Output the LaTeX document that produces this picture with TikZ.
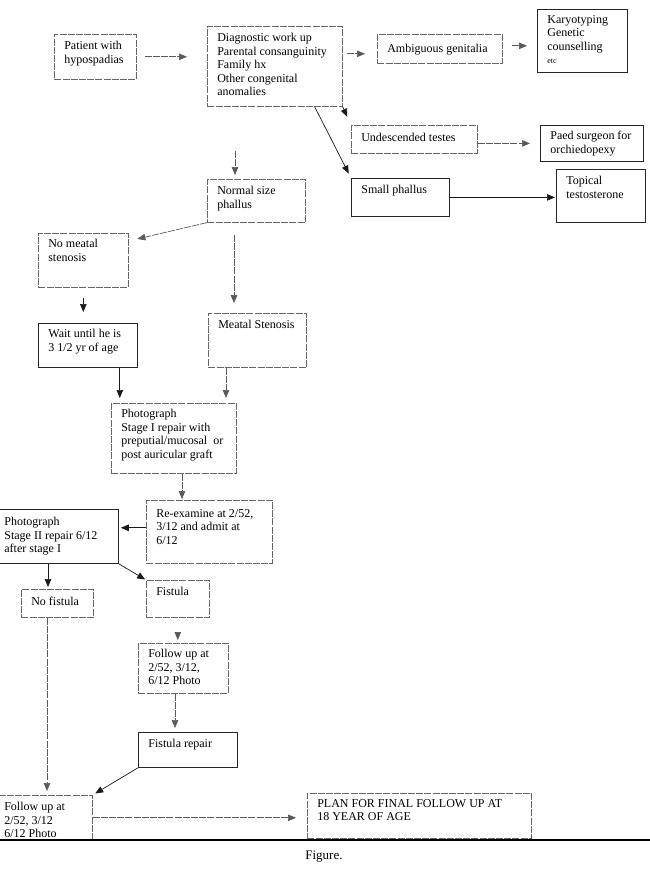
\documentclass[tikz,border=0pt]{standalone}
\usepackage{fontspec}
\setmainfont{Liberation Serif}
\usetikzlibrary{arrows.meta}

\tikzset{
  toppad/.store in=\boxpad, toppad=7pt,
  box/.style={draw=black!60, line width=0.6pt, dash pattern=on 7pt off 1.2pt,
    font=\fontsize{12}{13.5}\selectfont},
  sbox/.style={box, draw=black!85, line width=0.8pt, solid},
  link/.style={draw=black!90, line width=0.7pt, -{Triangle[length=8pt,width=6.5pt]}},
  dlink/.style={link, draw=black!65, dash pattern=on 7pt off 1.2pt}
}

\newcommand\flowbox[7][box]{%
  \node[#1, anchor=north west, inner sep=0pt] (#2) at (#3,#4)
    {\parbox[t][#6pt][t]{#5pt}{\raggedright\leftskip=10pt\vspace*{\boxpad}#7\par}};}

\begin{document}
\begin{tikzpicture}[x=1pt, y=-1pt]
\useasboundingbox (0,0) rectangle (650,873);

\flowbox{pat}{54}{34}{82}{45}{Patient with\\hypospadias}
\flowbox{diag}{207}{26}{135}{80}{Diagnostic work up\\Parental consanguinity\\Family hx\\Other congenital\\anomalies}
\flowbox[box, toppad=10pt]{ambig}{377}{34}{125}{29}{Ambiguous genitalia}
\flowbox[sbox, toppad=6pt]{karyo}{537}{9}{90}{63}{Karyotyping\\Genetic\\counselling\\{\fontsize{8}{9}\selectfont etc}}
\flowbox[box, toppad=8pt]{undesc}{351}{125}{126}{28}{Undescended testes}
\flowbox[sbox, toppad=6pt]{paed}{540}{125}{103}{36}{Paed surgeon for\\orchiedopexy}
\flowbox[sbox]{small}{351}{178}{98}{38}{Small phallus}
\flowbox[sbox]{topical}{556}{169}{89}{53}{Topical\\testosterone}
\flowbox{normal}{207}{179}{98}{43}{Normal size\\phallus}
\flowbox[box, toppad=6pt]{nomeatal}{38}{233}{90}{54}{No meatal\\stenosis}
\flowbox[sbox, toppad=6pt]{wait}{38}{323}{99}{44}{Wait until he is\\3 1/2 yr of age}
\flowbox{meatal}{208}{313}{98}{54}{Meatal Stenosis}
\flowbox[box, toppad=6pt]{photo1}{111}{403}{125}{70}{Photograph\\Stage I repair with\\preputial/mucosal\ \ or\\post auricular graft}
\flowbox[box, toppad=9pt]{reexam}{146}{500}{126}{63}{Re-examine at 2/52,\\3/12 and admit at\\6/12}
\flowbox[sbox, toppad=8pt]{photo2}{-6}{509}{124}{54}{Photograph\\Stage II repair 6/12\\after stage I}
\flowbox[box, toppad=8pt]{nofist}{21}{589}{72}{28}{No fistula}
\flowbox{fistula}{146}{580}{63}{37}{Fistula}
\flowbox[box, toppad=6pt]{follow1}{138}{643}{90}{50}{Follow up at\\2/52, 3/12,\\6/12 Photo}
\flowbox[sbox]{fixrep}{138}{732}{99}{35}{Fistula repair}
\flowbox{follow2}{-6}{795}{98}{45}{Follow up at\\2/52, 3/12\\6/12 Photo}
\flowbox[box, toppad=6pt]{plan}{307}{793}{224}{45}{PLAN FOR FINAL FOLLOW UP AT\\18 YEAR OF AGE}

\draw[dlink, shorten <=8pt, shorten >=20pt] (pat.east) -- (pat.east -| diag.west);
\draw[dlink, shorten <=4pt, shorten >=12pt] ([yshift=-5pt]ambig.west -| diag.east) -- ([yshift=-5pt]ambig.west);
\draw[dlink, shorten <=9pt, shorten >=10pt] ([yshift=3pt]ambig.east) -- ([yshift=3pt]ambig.east -| karyo.west);
\draw[link, shorten >=9pt] (diag.south east) -- (undesc.north west);
\draw[link, shorten >=5pt] ([xshift=-28pt]diag.south east) -- (small.north west);
\draw[dlink, shorten >=10pt] (paed.west -| undesc.east) -- (paed.west);
\draw[link, shorten >=1pt] (small.east) -- (small.east -| topical.west);
\draw[dlink, shorten <=44pt, shorten >=4pt] ([xshift=28pt]diag.south west) -- ([xshift=28pt]normal.north west);
\draw[dlink, shorten <=12pt, shorten >=10pt] ([xshift=27pt]normal.south west) -- ([xshift=27pt]normal.south west |- meatal.north);
\draw[dlink, shorten >=9pt] (normal.south west) -- ([yshift=-8pt]nomeatal.north east);
\draw[link, shorten <=10pt, shorten >=11pt] (nomeatal.south) -- (nomeatal.south |- wait.north);
\draw[link, shorten >=5pt] ([xshift=-18pt]wait.south east) -- ([xshift=-18pt]wait.south east |- photo1.north);
\draw[dlink, shorten >=5pt] ([xshift=18pt]meatal.south west) -- ([xshift=18pt]meatal.south west |- photo1.north);
\draw[dlink, shorten >=1pt] ([xshift=71pt]photo1.south west) -- ([xshift=71pt]photo1.south west |- reexam.north);
\draw[link, shorten >=2pt] ([yshift=4pt]reexam.west) -- ([yshift=4pt]reexam.west -| photo2.east);
\draw[link, shorten >=2pt] ([xshift=54pt]photo2.south west) -- ([xshift=54pt]photo2.south west |- nofist.north);
\draw[link, shorten >=1pt] (photo2.south east) -- (fistula.north west);
\draw[dlink, shorten <=16pt, shorten >=3pt] (fistula.south) -- (fistula.south |- follow1.north);
\draw[dlink, shorten >=4pt] ([xshift=37pt]follow1.south west) -- ([xshift=37pt]follow1.south west |- fixrep.north);
\draw[link, shorten >=3pt] (fixrep.south west) -- (follow2.north east);
\draw[dlink, shorten >=4pt] ([xshift=26pt]nofist.south west) -- ([xshift=26pt]nofist.south west |- follow2.north);
\draw[dlink, shorten >=11pt] (follow2.east) -- (follow2.east -| plan.west);

\draw[line width=2.5pt] (0,840) -- (650,840);
\node[font=\fontsize{13}{15}\selectfont] (caption) at (324,857) {Figure.};
\end{tikzpicture}
\end{document}
